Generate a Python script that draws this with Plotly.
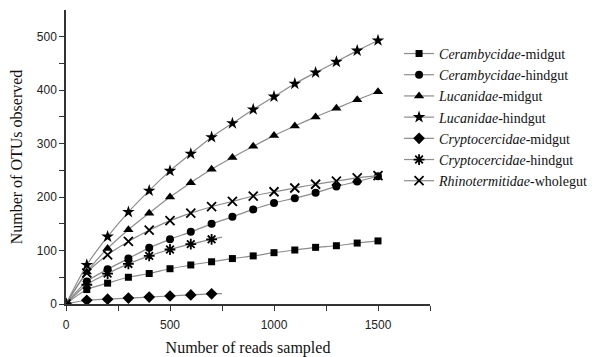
import plotly.graph_objects as go

# ---- data ----
reads = [0, 100, 200, 300, 400, 500, 600, 700, 800, 900, 1000, 1100, 1200, 1300, 1400, 1500]
reads_short = [0, 100, 200, 300, 400, 500, 600, 700]

cer_mid = [0, 27, 39, 50, 57, 66, 73, 79, 85, 90, 96, 101, 106, 109, 114, 118]
cer_hind = [0, 42, 65, 85, 105, 121, 135, 150, 163, 177, 189, 198, 208, 220, 229, 239]
luc_mid = [0, 60, 104, 139, 170, 200, 227, 252, 274, 295, 315, 333, 350, 366, 382, 397]
luc_hind = [0, 73, 126, 172, 212, 249, 281, 312, 338, 364, 388, 412, 433, 453, 474, 493]
cry_mid = [0, 7, 9, 11, 13, 15, 17, 19]
cry_hind = [0, 36, 57, 75, 90, 102, 112, 121]
rhi_whole = [0, 58, 92, 117, 138, 156, 170, 182, 192, 202, 210, 217, 224, 230, 236, 240]

# the fitted curve of the two short series continues to:
curve_end_x = 750
cry_mid_end = 19.5
cry_hind_end = 125

names = [
    "<i>Cerambycidae</i>-midgut",
    "<i>Cerambycidae</i>-hindgut",
    "<i>Lucanidae</i>-midgut",
    "<i>Lucanidae</i>-hindgut",
    "<i>Cryptocercidae</i>-midgut",
    "<i>Cryptocercidae</i>-hindgut",
    "<i>Rhinotermitidae</i>-wholegut",
]

series = [
    (reads, cer_mid, None, "square", 7),
    (reads, cer_hind, None, "circle", 8),
    (reads, luc_mid, None, "triangle-up", 9),
    (reads, luc_hind, None, "star", 9.5),
    (reads_short, cry_mid, cry_mid_end, "diamond", 9),
    (reads_short, cry_hind, cry_hind_end, "asterisk-open", 9),
    (reads, rhi_whole, None, "x-thin-open", 9),
]

LINE = dict(color="#8c8c8c", width=1.2, shape="spline", smoothing=0.8)

fig = go.Figure()
for name, (xs, ys, end, sym, sz) in zip(names, series):
    if end is not None:
        fig.add_trace(go.Scatter(
            x=[xs[-1], curve_end_x], y=[ys[-1], end], mode="lines",
            line=LINE, showlegend=False, hoverinfo="skip",
        ))
    open_sym = sym.endswith("open")
    fig.add_trace(go.Scatter(
        x=xs, y=ys, name=name,
        mode="lines+markers",
        line=LINE,
        marker=dict(symbol=sym, size=sz, color="black", opacity=1,
                    line=dict(color="black", width=1.8 if open_sym else 0)),
    ))

SERIF = "Liberation Serif, Times New Roman, serif"

fig.update_layout(
    width=603, height=357,
    margin=dict(l=66, r=168, t=10, b=53),
    paper_bgcolor="white", plot_bgcolor="white",
    font=dict(family="Liberation Sans, Arial, sans-serif", size=12, color="#222"),
    showlegend=True,
    legend=dict(
        x=0.915, y=0.905, xanchor="left", yanchor="top",
        font=dict(family=SERIF, size=14, color="#111"),
        bgcolor="rgba(0,0,0,0)",
        tracegroupgap=0,
    ),
)

fig.update_xaxes(
    range=[0, 1750], tickvals=[0, 500, 1000, 1500],
    ticks="outside", ticklen=5, tickcolor="#333", tickwidth=1,
    ticklabelstandoff=4, automargin=False,
    minor=dict(ticks="outside", tickvals=[250, 750, 1250, 1750], ticklen=5, tickcolor="#333"),
    showline=True, linecolor="#333", linewidth=1.5, showgrid=False, zeroline=False,
    title=dict(text="Number of reads sampled",
               font=dict(family=SERIF, size=16, color="#111"),
               standoff=18),
)
fig.update_yaxes(
    range=[0, 550], tickvals=[0, 100, 200, 300, 400, 500],
    ticks="outside", ticklen=5, tickcolor="#333", tickwidth=1,
    automargin=False,
    minor=dict(ticks="outside", tickvals=[50, 150, 250, 350, 450], ticklen=5, tickcolor="#333"),
    showline=True, linecolor="#333", linewidth=1.5, showgrid=False, zeroline=False,
    title=dict(text="Number of OTUs observed",
               font=dict(family=SERIF, size=16, color="#111"),
               standoff=10),
)

fig.write_html("out.html")
